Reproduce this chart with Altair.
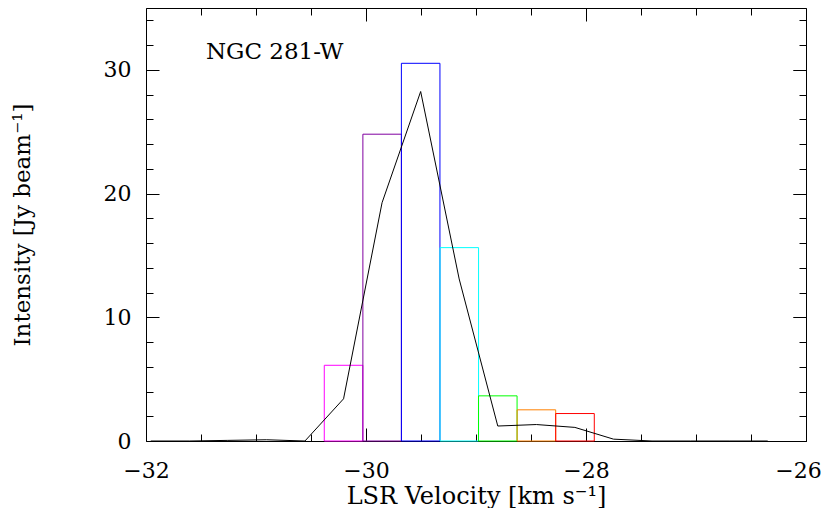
import altair as alt
import pandas as pd

# ---- data ----
# histogram-style channel boxes (velocity centre, intensity, colour)
bar_vel = [-30.204, -29.853, -29.503, -29.152, -28.802, -28.451, -28.100]
bar_int = [6.12, 24.8, 30.53, 15.63, 3.65, 2.52, 2.22]
bar_colors = ["#ff00ff", "#8000a0", "#0000ff", "#00ffff", "#00ff00", "#ff8000", "#ff0000"]
chan_width = 0.3506

# black spectrum line
spec_vel = [-31.957, -31.607, -31.256, -30.906, -30.555, -30.204, -29.854, -29.503,
            -29.153, -28.802, -28.451, -28.101, -27.750, -27.400, -27.049, -26.699, -26.348]
spec_int = [0.0, 0.0, 0.05, 0.1, 0.0, 3.41, 19.26, 28.25,
            13.1, 1.21, 1.33, 1.1, 0.15, 0.0, 0.0, 0.0, 0.0]

# axis ticks / labels
x_major = [-32, -30, -28, -26]
x_labels_main = [-32, -30, -28]
x_label_edge = [-26]
x_minor = [-31.5, -31, -30.5, -29.5, -29, -28.5, -27.5, -27, -26.5]
y_major = [0, 10, 20, 30]
y_minor = [2, 4, 6, 8, 12, 14, 16, 18, 22, 24, 26, 28, 32, 34]
x_domain = [-32, -26]
y_domain = [0, 35]

label_text = ["NGC 281-W"]
label_x = [-31.455]
label_y = [30.9]

x_title = "LSR Velocity [km s\u207b\u00b9]"
y_title = "Intensity [Jy beam\u207b\u00b9]"

FONT = "DejaVu Serif"

# ---- tables ----
bars_df = pd.DataFrame({"v": bar_vel, "I": bar_int, "c": bar_colors})
bars_df["v0"] = bars_df["v"] - chan_width / 2
bars_df["v1"] = bars_df["v"] + chan_width / 2
spec_df = pd.DataFrame({"v": spec_vel, "I": spec_int})
text_df = pd.DataFrame({"t": label_text, "v": label_x, "I": label_y})

xs = alt.Scale(domain=x_domain, nice=False, zero=False)
ys = alt.Scale(domain=y_domain, nice=False, zero=False)


def tick_axis(values, orient, size):
    return alt.Axis(values=values, orient=orient, ticks=True, tickSize=size,
                    offset=-size, labels=False, domain=False, grid=False,
                    title="", tickColor="black", tickWidth=1)


# main layer: bars with labelled axes
bars = alt.Chart(bars_df).mark_rect(fillOpacity=0, strokeWidth=1).encode(
    x=alt.X("v0:Q", scale=xs, axis=alt.Axis(
        values=x_labels_main, format="d", orient="bottom", ticks=False, tickSize=0,
        domain=False, grid=False, labelPadding=36, labelBaseline="alphabetic",
        labelFlush=False, labelOverlap=False, title=x_title, titleY=62,
        titleBaseline="alphabetic")),
    x2="v1:Q",
    y=alt.Y("I:Q", scale=ys, axis=alt.Axis(
        values=y_major, format="d", orient="left", ticks=False, tickSize=0,
        domain=False, grid=False, labelPadding=15, labelFlush=False,
        labelOverlap=False, title=y_title, titleX=-117, titleFontSize=23,
        titleBaseline="alphabetic", titleAngle=270)),
    y2=alt.datum(0),
    stroke=alt.Stroke("c:N", scale=None),
)

line = alt.Chart(spec_df).mark_line(color="black", strokeWidth=1).encode(
    x=alt.X("v:Q", scale=xs, axis=tick_axis(x_major, "bottom", 13)),
    y=alt.Y("I:Q", scale=ys, axis=tick_axis(y_major, "left", 13)),
)

text = alt.Chart(text_df).mark_text(
    align="left", baseline="alphabetic", font=FONT, fontSize=23, color="black"
).encode(
    x=alt.X("v:Q", scale=xs, axis=tick_axis(x_minor, "bottom", 7)),
    y=alt.Y("I:Q", scale=ys, axis=tick_axis(y_minor, "left", 7)),
    text="t:N",
)

tr_major = alt.Chart(spec_df).mark_point(opacity=0).encode(
    x=alt.X("v:Q", scale=xs, axis=tick_axis(x_major, "top", 13)),
    y=alt.Y("I:Q", scale=ys, axis=tick_axis(y_major, "right", 13)),
)

tr_minor = alt.Chart(spec_df).mark_point(opacity=0).encode(
    x=alt.X("v:Q", scale=xs, axis=tick_axis(x_minor, "top", 7)),
    y=alt.Y("I:Q", scale=ys, axis=tick_axis(y_minor, "right", 7)),
)

# right-most x label, nudged inward so it stays on the page
edge_label = alt.Chart(spec_df).mark_point(opacity=0).encode(
    x=alt.X("v:Q", scale=xs, axis=alt.Axis(
        values=x_label_edge, format="d", orient="bottom", ticks=False, tickSize=0,
        domain=False, grid=False, labelPadding=36, labelBaseline="alphabetic",
        labelFlush=False, labelOverlap=False, labelOffset=-8, title="")),
    y=alt.Y("I:Q", scale=ys, axis=tick_axis(y_major, "right", 13)),
)

chart = alt.layer(bars, line, text, tr_major, tr_minor, edge_label).resolve_scale(
    x="independent", y="independent"
).properties(
    width=660,
    height=433,
    autosize=alt.AutoSizeParams(type="none"),
    padding={"left": 138, "top": 0, "right": 16, "bottom": 67},
    background="white",
).configure_view(
    stroke="black", strokeWidth=1
).configure_axis(
    labelFont=FONT, labelFontSize=22, labelColor="black",
    titleFont=FONT, titleFontSize=24, titleColor="black", titleFontWeight="normal",
)

chart.save("out.html", embed_options={"renderer": "svg", "actions": False})
